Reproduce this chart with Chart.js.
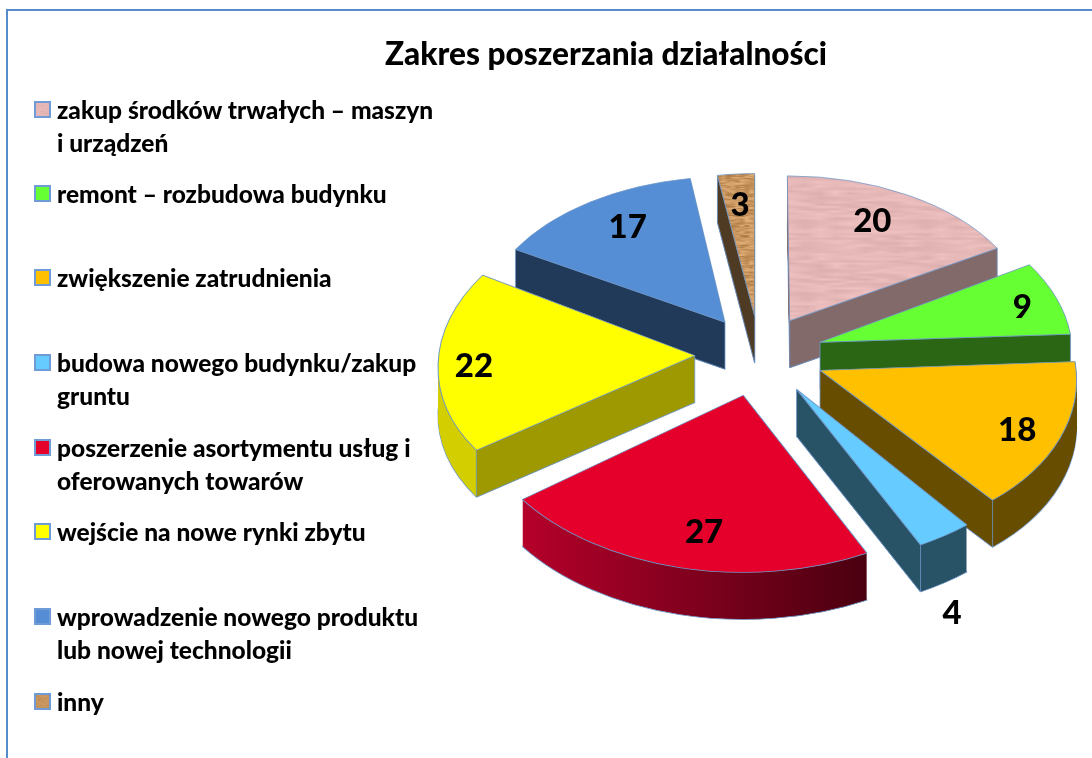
<!DOCTYPE html>
<html>
<head>
<meta charset="utf-8">
<script src="https://cdn.jsdelivr.net/npm/chart.js@4"></script>
<style>
    html, body { margin: 0; padding: 0; background: #fff; }
    #page { position: relative; width: 1092px; height: 758px; overflow: hidden; font-family: Lato, sans-serif; }
    #frame { position: absolute; left: 6px; top: 9px; width: 1200px; height: 900px; border: 2px solid #558ccb; }
    #pie { position: absolute; left: 0; top: 0; }
    .legend-item { position: absolute; left: 57px; font-weight: 900; font-size: 24.5px; line-height: 32.5px; color: #000; white-space: pre-line; }
    .swatch { position: absolute; left: -23px; top: 7px; width: 13px; height: 13px; border: 2px solid #6f9bd6; background-size: cover; }
</style>
</head>
<body>
<div id="page">
    <div id="frame"></div>
    <canvas id="pie" width="1092" height="758"></canvas>
    <div id="legend"></div>
</div>
<script>
const chartTitle = 'Zakres poszerzania działalności';
const categories = [
    'zakup środków trwałych – maszyn\ni urządzeń',
    'remont – rozbudowa budynku',
    'zwiększenie zatrudnienia',
    'budowa nowego budynku/zakup\ngruntu',
    'poszerzenie asortymentu usług i\noferowanych towarów',
    'wejście na nowe rynki zbytu',
    'wprowadzenie nowego produktu\nlub nowej technologii',
    'inny'
];
const values = [20, 9, 18, 4, 27, 22, 17, 3];

// slice colours
const topColors = ['#E6B9B8', '#66FF33', '#FFC000', '#66CCFF', '#E4002B', '#FFFF00', '#558ED5', '#C8955F'];
const wallColors = ['#836A6A', '#2B6615', '#664D00', '#285266', '#8A0020', '#9E9900', '#223A5A', '#4F3A24'];
const rimColors = [
    ['#836A6A', '#836A6A'], ['#2B6615', '#2B6615'], ['#664D00', '#664D00'], ['#285266', '#285266'],
    ['#4A0010', '#B5002A'], ['#D2CE00', '#D2CE00'], ['#223A5A', '#223A5A'], ['#4F3A24', '#4F3A24']
];
const edgeColor = '#6F97C8';

// legend and label placement
const legendTops = [94, 178, 262, 347, 432, 516, 601, 686];
const labelReach = [0.77, 0.85, 0.83, 1.4, 0.785, 0.86, 0.77, 0.78];
const labelTurn = [-3, 1, 1.5, 9.1, -3, -1.3, 2.5, 0];

// fake 3D settings
const pieRadius = 256;
const tilt = 0.625;
const explode = 64.5;
const depth = 47;
const pieShift = 153.4;

// smooth deterministic grain for the marble and wood fills
function makeTexture(rgb, amount, cellW, cellH) {
    const size = 128;
    const canvas = document.createElement('canvas');
    canvas.width = canvas.height = size;
    const c = canvas.getContext('2d');
    const img = c.createImageData(size, size);
    const cols = Math.round(size / cellW);
    const rows = Math.round(size / cellH);
    const grain = (x, y) => {
        const n = Math.sin((x % cols) * 12.9898 + (y % rows) * 78.233) * 43758.5453;
        return n - Math.floor(n) - 0.5;
    };
    for (let y = 0; y < size; y++) {
        for (let x = 0; x < size; x++) {
            const gx = x / cellW, gy = y / cellH;
            const x0 = Math.floor(gx), y0 = Math.floor(gy);
            const tx = gx - x0, ty = gy - y0;
            const top = grain(x0, y0) * (1 - tx) + grain(x0 + 1, y0) * tx;
            const bottom = grain(x0, y0 + 1) * (1 - tx) + grain(x0 + 1, y0 + 1) * tx;
            const v = amount * (top * (1 - ty) + bottom * ty);
            const p = (y * size + x) * 4;
            img.data[p] = rgb[0] + v;
            img.data[p + 1] = rgb[1] + v;
            img.data[p + 2] = rgb[2] + v;
            img.data[p + 3] = 255;
        }
    }
    c.putImageData(img, 0, 0);
    return canvas;
}

function midAngle(arc) {
    return (arc.startAngle + arc.endAngle) / 2;
}

// per-slice linear stand-in for the perspective: front is bigger, sides lean outward
function sliceMatrix(arc) {
    const m = midAngle(arc);
    const sy = Math.sin(m), cx = Math.cos(m);
    const grow = 1 + 0.07 * sy;
    return {
        a: 1 + 0.07 * sy * Math.abs(sy) - 0.012 * Math.max(cx, 0),
        c: 0.075 * cx * cx * cx,
        d: tilt * (1 + 0.11 * sy),
        ex: cx * explode * grow,
        ey: sy * explode * grow * tilt
    };
}

function placeSlice(ctx, arc, drop) {
    const t = sliceMatrix(arc);
    ctx.translate(arc.x + pieShift + t.ex, arc.y + drop + t.ey);
    ctx.transform(t.a, 0, t.c, t.d, 0, 0);
    ctx.translate(-arc.x, -arc.y);
}

// same mapping as placeSlice but for a single point, returns page coordinates
function slicePoint(arc, angle, r, drop) {
    const t = sliceMatrix(arc);
    const px = Math.cos(angle) * r, py = Math.sin(angle) * r;
    return {
        x: arc.x + pieShift + t.ex + t.a * px + t.c * py,
        y: arc.y + drop + t.ey + t.d * py
    };
}

function drawArcWith(ctx, arc, drop, fill, borderWidth) {
    const saved = arc.options;
    arc.options = Object.assign({}, saved, { backgroundColor: fill, borderWidth: borderWidth });
    ctx.save();
    placeSlice(ctx, arc, drop);
    arc.draw(ctx);
    ctx.restore();
    arc.options = saved;
}

function drawWall(ctx, arc, angle, color) {
    const a = slicePoint(arc, angle, 0, 0);
    const b = slicePoint(arc, angle, arc.outerRadius, 0);
    ctx.beginPath();
    ctx.moveTo(a.x, a.y);
    ctx.lineTo(b.x, b.y);
    ctx.lineTo(b.x, b.y + depth);
    ctx.lineTo(a.x, a.y + depth);
    ctx.closePath();
    ctx.fillStyle = color;
    ctx.fill();
    ctx.lineWidth = 0.8;
    ctx.strokeStyle = edgeColor;
    ctx.stroke();
}

const pie3d = {
    id: 'pie3d',
    beforeDatasetDraw(chart, args) {
        const ctx = chart.ctx;
        const arcs = chart.getDatasetMeta(args.index).data.map((arc, i) => ({ arc, i }));
        // back slices first so the front ones cover them
        arcs.sort((p, q) => Math.sin(midAngle(p.arc)) - Math.sin(midAngle(q.arc)));

        arcs.forEach(({ arc, i }) => {
            const sx = arc.x + Math.cos(arc.startAngle) * arc.outerRadius;
            const ex = arc.x + Math.cos(arc.endAngle) * arc.outerRadius;
            const rim = ctx.createLinearGradient(sx, 0, ex, 0);
            rim.addColorStop(0, rimColors[i][0]);
            rim.addColorStop(1, rimColors[i][1]);

            drawArcWith(ctx, arc, depth, rim, 1);
            for (let d = depth - 1; d > 0; d--) {
                drawArcWith(ctx, arc, d, rim, 0);
            }
            if (Math.cos(arc.startAngle) < 0) drawWall(ctx, arc, arc.startAngle, wallColors[i]);
            if (Math.cos(arc.endAngle) > 0) drawWall(ctx, arc, arc.endAngle, wallColors[i]);

            ctx.save();
            placeSlice(ctx, arc, 0);
            arc.draw(ctx);
            ctx.restore();
        });
        return false;
    },
    afterDatasetsDraw(chart) {
        const ctx = chart.ctx;
        ctx.save();
        ctx.font = '900 33px Lato, sans-serif';
        ctx.fillStyle = '#000';
        ctx.textAlign = 'center';
        ctx.textBaseline = 'middle';
        chart.getDatasetMeta(0).data.forEach((arc, i) => {
            const angle = midAngle(arc) + labelTurn[i] * Math.PI / 180;
            const p = slicePoint(arc, angle, labelReach[i] * arc.outerRadius, 0);
            ctx.fillText(String(values[i]), p.x, p.y);
        });
        ctx.restore();
    }
};

const pinkTexture = makeTexture([230, 185, 184], 20, 16, 4);
const brownTexture = makeTexture([200, 149, 95], 60, 5, 2);

const ctx = document.getElementById('pie').getContext('2d');
const fills = topColors.slice();
fills[0] = ctx.createPattern(pinkTexture, 'repeat');
fills[7] = ctx.createPattern(brownTexture, 'repeat');

new Chart(ctx, {
    type: 'pie',
    data: {
        labels: categories,
        datasets: [{
            data: values,
            backgroundColor: fills,
            borderColor: edgeColor,
            borderWidth: 1
        }]
    },
    options: {
        responsive: false,
        animation: false,
        radius: pieRadius,
        layout: { padding: { left: 120, bottom: 162 } },
        plugins: {
            legend: { display: false },
            tooltip: { enabled: false },
            title: {
                display: true,
                text: chartTitle,
                color: '#000',
                font: { family: 'Lato, sans-serif', size: 31.6, weight: '900', lineHeight: 1.2 },
                padding: { top: 36, bottom: 37 }
            }
        }
    },
    plugins: [pie3d]
});

// legend
const legend = document.getElementById('legend');
legend.innerHTML = categories.map((name, i) => {
    let fill = 'background-color:' + topColors[i];
    if (i === 0) fill = 'background-image:url(' + pinkTexture.toDataURL() + ')';
    if (i === 7) fill = 'background-image:url(' + brownTexture.toDataURL() + ')';
    return `<div class="legend-item" style="top:${legendTops[i]}px"><span class="swatch" style="${fill}"></span>${name}</div>`;
}).join('');
</script>
</body>
</html>
